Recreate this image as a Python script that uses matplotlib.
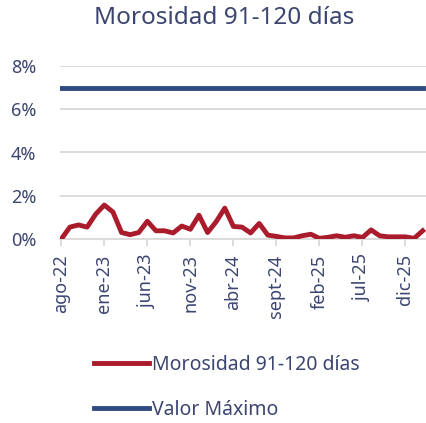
import matplotlib.pyplot as plt
import numpy as np

meses = ["ago-22", "sept-22", "oct-22", "nov-22", "dic-22",
         "ene-23", "feb-23", "mar-23", "abr-23", "may-23", "jun-23", "jul-23",
         "ago-23", "sept-23", "oct-23", "nov-23", "dic-23",
         "ene-24", "feb-24", "mar-24", "abr-24", "may-24", "jun-24", "jul-24",
         "ago-24", "sept-24", "oct-24", "nov-24", "dic-24",
         "ene-25", "feb-25", "mar-25", "abr-25", "may-25", "jun-25", "jul-25",
         "ago-25", "sept-25", "oct-25", "nov-25", "dic-25",
         "ene-26", "feb-26"]
morosidad = [0.00, 0.55, 0.65, 0.55, 1.15, 1.57, 1.25, 0.30, 0.20, 0.30,
             0.82, 0.38, 0.38, 0.28, 0.60, 0.45, 1.10, 0.30, 0.80, 1.43,
             0.58, 0.55, 0.28, 0.72, 0.18, 0.12, 0.05, 0.05, 0.15, 0.22,
             0.03, 0.08, 0.15, 0.08, 0.15, 0.07, 0.42, 0.15, 0.10, 0.10,
             0.10, 0.03, 0.38]
valor_maximo = [7.0] * len(meses)
y_ticks = [0, 2, 4, 6, 8]

rojo = "#AA1B2B"
azul = "#2E4A7E"
texto = "#3B4570"
gris = "#D9D9D9"

plt.rcParams['font.family'] = ['Noto Sans', 'DejaVu Sans']

fig = plt.figure(figsize=(4.27, 4.23), dpi=100)
ax = fig.add_axes([60/427, 184/423, 367/427, 173/423])

x = np.arange(len(meses))
l1, = ax.plot(x, morosidad, color=rojo, linewidth=3.5,
              label="Morosidad 91-120 días", zorder=3)
l2, = ax.plot(x, valor_maximo, color=azul, linewidth=3.5,
              label="Valor Máximo", zorder=3)

ax.set_xlim(-0.15, 42.5)
ax.set_ylim(0, 8)
ax.set_yticks(y_ticks)
ax.set_yticklabels([f"{v}%" for v in y_ticks])
ax.grid(axis='y', color=gris, linewidth=1.3)
ax.set_axisbelow(True)

ticks = x[::5]
ax.set_xticks(ticks)
ax.set_xticklabels([meses[i] for i in ticks])

for s in ['top', 'right', 'left']:
    ax.spines[s].set_visible(False)
ax.spines['bottom'].set_color(gris)
ax.spines['bottom'].set_linewidth(1.3)
ax.tick_params(axis='y', length=0, pad=17, labelsize=13, labelcolor=texto)
ax.tick_params(axis='x', length=5, color=gris, width=1.3, pad=6,
               labelsize=13, labelcolor=texto, labelrotation=90)

fig.text(0.525, 0.957, "Morosidad 91-120 días", ha='center', va='center',
         fontsize=17.5, color=texto)

fig.legend(handles=[l1, l2], loc='center left', bbox_to_anchor=(0.178, 0.084),
           frameon=False, fontsize=14, handlelength=2.85, handletextpad=0.15,
           labelspacing=1.3, labelcolor=texto)

fig.savefig("out.png", dpi=100)
